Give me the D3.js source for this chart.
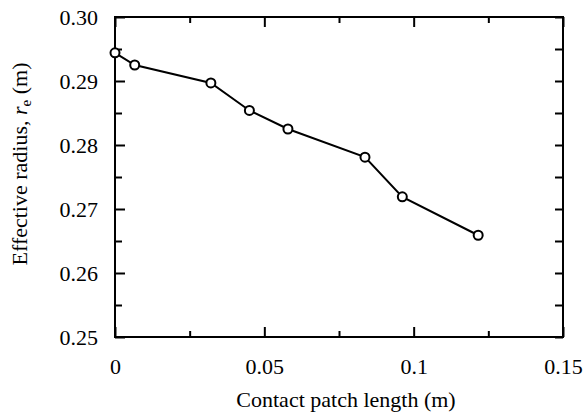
<!DOCTYPE html>
<html>
<head>
<meta charset="utf-8">
<script src="https://cdn.jsdelivr.net/npm/d3@7"></script>
</head>
<body style="margin:0; background:#fff">
<div id="chart"></div>
<script>
const contactLength = [0, 0.0066, 0.0321, 0.045, 0.0579, 0.0837, 0.0962, 0.1216];
const effectiveRadius = [0.2944, 0.2925, 0.2897, 0.2854, 0.2825, 0.2781, 0.2719, 0.2659];
const xTicks = [0, 0.05, 0.1, 0.15];
const xMinorTicks = [0.025, 0.075, 0.125];
const yTicks = [0.25, 0.26, 0.27, 0.28, 0.29, 0.30];
const yMinorTicks = [0.255, 0.265, 0.275, 0.285, 0.295];

const serif = "'Liberation Serif'";
const margin = { top: 17, right: 20, bottom: 77, left: 115 };
const width = 583 - margin.left - margin.right;
const height = 414 - margin.top - margin.bottom;

const svg = d3.select("#chart")
  .append("svg")
  .attr("width", 583)
  .attr("height", 414)
  .append("g")
  .attr("transform", `translate(${margin.left},${margin.top})`);

const x = d3.scaleLinear().domain([0, 0.15]).range([0, width]);
const y = d3.scaleLinear().domain([0.25, 0.30]).range([height, 0]);

const fmtX = d => d === 0 ? "0" : String(d);
const fmtY = d => d3.format(".2f")(d);

function tidy(g) {
  g.select(".domain").remove();
  g.selectAll("line").attr("stroke-width", 2);
  g.selectAll("text")
    .style("font-family", serif)
    .style("font-size", "22px")
    .attr("fill", "#000");
}

// bottom axis with labels
svg.append("g")
  .attr("transform", `translate(0,${height})`)
  .call(d3.axisBottom(x).tickValues(xTicks).tickFormat(fmtX).tickSizeInner(-10).tickSizeOuter(0).tickPadding(21))
  .call(tidy);
svg.append("g")
  .attr("transform", `translate(0,${height})`)
  .call(d3.axisBottom(x).tickValues(xMinorTicks).tickFormat("").tickSizeInner(-6).tickSizeOuter(0))
  .call(tidy);

// top axis ticks
svg.append("g")
  .call(d3.axisTop(x).tickValues(xTicks).tickFormat("").tickSizeInner(-10).tickSizeOuter(0))
  .call(tidy);
svg.append("g")
  .call(d3.axisTop(x).tickValues(xMinorTicks).tickFormat("").tickSizeInner(-6).tickSizeOuter(0))
  .call(tidy);

// left axis with labels
svg.append("g")
  .call(d3.axisLeft(y).tickValues(yTicks).tickFormat(fmtY).tickSizeInner(-10).tickSizeOuter(0).tickPadding(17))
  .call(tidy);
svg.append("g")
  .call(d3.axisLeft(y).tickValues(yMinorTicks).tickFormat("").tickSizeInner(-7).tickSizeOuter(0))
  .call(tidy);

// right axis ticks
svg.append("g")
  .attr("transform", `translate(${width},0)`)
  .call(d3.axisRight(y).tickValues(yTicks.concat(yMinorTicks)).tickFormat("").tickSizeInner(-8).tickSizeOuter(0))
  .call(tidy);

// frame
svg.append("rect")
  .attr("x", 0).attr("y", 0)
  .attr("width", width).attr("height", height)
  .attr("fill", "none")
  .attr("stroke", "#000")
  .attr("stroke-width", 2);

const points = contactLength.map((d, i) => [d, effectiveRadius[i]]);

svg.append("path")
  .datum(points)
  .attr("fill", "none")
  .attr("stroke", "#000")
  .attr("stroke-width", 2)
  .attr("d", d3.line().x(d => x(d[0])).y(d => y(d[1])));

svg.selectAll(".pt")
  .data(points)
  .enter()
  .append("circle")
  .attr("class", "pt")
  .attr("cx", d => x(d[0]))
  .attr("cy", d => y(d[1]))
  .attr("r", 4.5)
  .attr("fill", "#fff")
  .attr("stroke", "#000")
  .attr("stroke-width", 2);

// axis titles
svg.append("text")
  .attr("x", width / 2 + 7)
  .attr("y", height + 70)
  .attr("text-anchor", "middle")
  .style("font-family", serif)
  .style("font-size", "22px")
  .text("Contact patch length (m)");

const yTitle = svg.append("text")
  .attr("transform", `translate(${-88},${height / 2 - 13}) rotate(-90)`)
  .attr("text-anchor", "middle")
  .style("font-family", serif)
  .style("font-size", "22px");
yTitle.append("tspan").text("Effective radius, ");
yTitle.append("tspan").style("font-style", "italic").text("r");
yTitle.append("tspan").style("font-size", "15px").attr("dy", 4).text("e");
yTitle.append("tspan").attr("dy", -4).text(" (m)");
</script>
</body>
</html>
